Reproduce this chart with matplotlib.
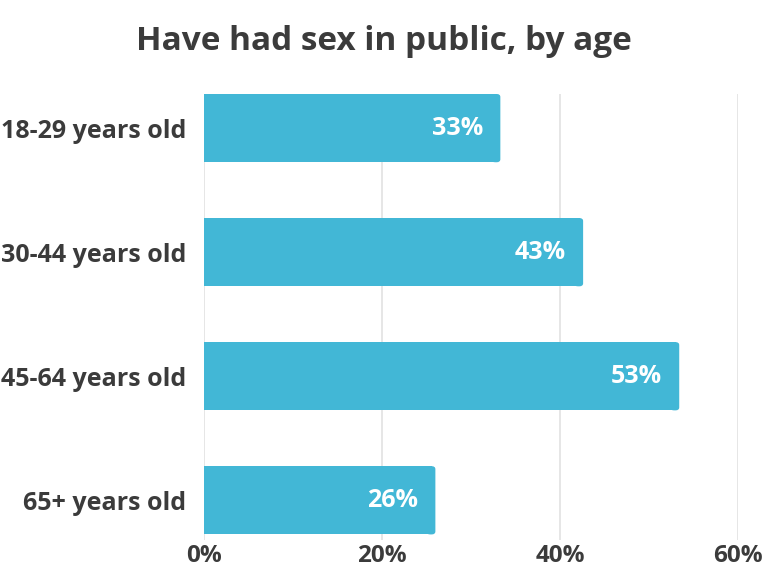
import os
import matplotlib
matplotlib.use("Agg")
import matplotlib.pyplot as plt
from matplotlib.patches import FancyBboxPatch
from matplotlib.font_manager import FontProperties

bold_path = "/usr/share/fonts/truetype/open-sans/OpenSans-Bold.ttf"
if os.path.exists(bold_path):
    def fp(size):
        return FontProperties(fname=bold_path, size=size)
else:
    def fp(size):
        return FontProperties(family="DejaVu Sans", weight="bold", size=size)

age_groups = ["18-29 years old", "30-44 years old", "45-64 years old", "65+ years old"]
shares = [33.3, 42.6, 53.4, 26.0]
share_labels = ["33%", "43%", "53%", "26%"]
ticks = [0, 20, 40, 60]

bar_color = "#42b7d6"
text_color = "#3b3b3b"
grid_color = "#e2e2e2"

fig = plt.figure(figsize=(7.68, 5.76), dpi=100)
ax = fig.add_axes([0.2656, 0.0625, 0.6953, 0.7743])

bar_h = 0.55
for i, v in enumerate(shares):
    # flat left edge, slightly rounded right edge
    ax.barh(i, v - 0.4, height=bar_h, color=bar_color, zorder=2)
    p = FancyBboxPatch((v - 1.0, i - bar_h / 2), 1.0, bar_h,
                       boxstyle="round,pad=0,rounding_size=0.4",
                       mutation_aspect=0.06, fc=bar_color, ec="none", zorder=2)
    ax.add_patch(p)
    ax.text(v - 1.9, i, share_labels[i], ha="right", va="center", color="white",
            fontproperties=fp(18), zorder=3)

ax.set_xlim(0, 60)
ax.set_ylim(3.32, -0.275)
ax.set_xticks(ticks)
ax.set_xticklabels([f"{t}%" for t in ticks])
ax.set_yticks(range(len(age_groups)))
ax.set_yticklabels(age_groups)
ax.tick_params(length=0, labelcolor=text_color)
ax.tick_params(axis="x", pad=3)
ax.tick_params(axis="y", pad=13)
for lab in ax.get_xticklabels():
    lab.set_fontproperties(fp(17.5))
for lab in ax.get_yticklabels():
    lab.set_fontproperties(fp(18))

ax.grid(axis="x", color=grid_color, linewidth=1.2, zorder=0)
ax.set_axisbelow(True)
for s in ax.spines.values():
    s.set_visible(False)

fig.text(0.5, 0.928, "Have had sex in public, by age", ha="center", va="center",
         fontproperties=fp(24), color=text_color)

fig.savefig("out.png", dpi=100, facecolor="white")
